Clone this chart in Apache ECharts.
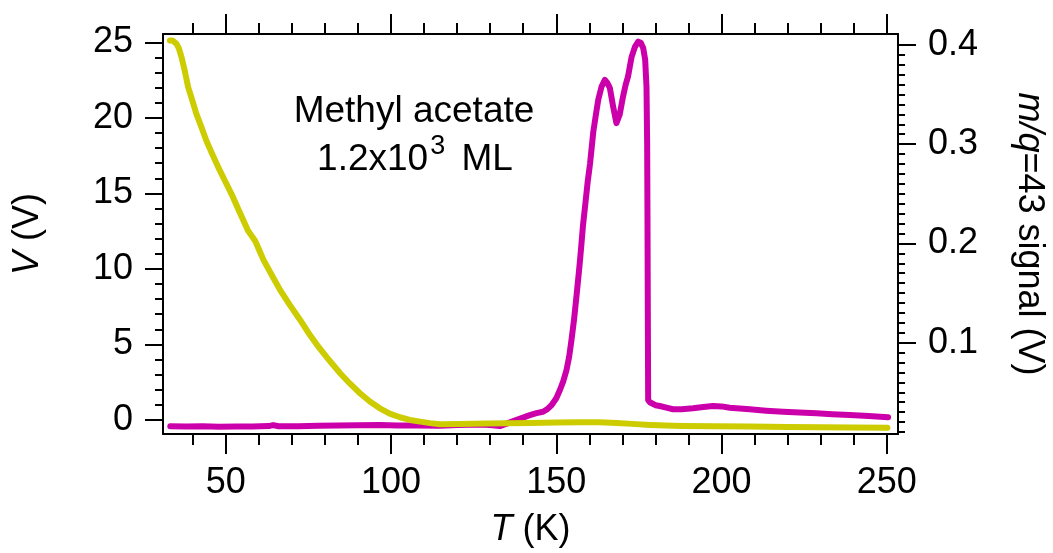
<!DOCTYPE html>
<html>
<head>
<meta charset="utf-8">
<script src="https://cdn.jsdelivr.net/npm/echarts@6/dist/echarts.min.js"></script>
<style>
html,body{margin:0;padding:0;background:#fff;}
#c{width:1053px;height:553px;}
</style>
</head>
<body>
<div id="c"></div>
<script>
// ---- Data ----
// Yellow curve: V (V) vs T (K), left axis
var tYellow = [33.1, 34.0, 35.1, 35.8, 36.6, 37.6, 38.6, 39.8, 41.1, 42.6,
  44.1, 45.9, 47.7, 49.7, 51.7, 54.2, 56.7, 57.8, 58.9, 60.1,
  61.4, 63.9, 66.4, 69.4, 72.5, 75.2, 78.0, 81.3, 84.6, 87.6,
  90.6, 93.6, 96.6, 99.6, 102.7, 105.7, 108.8, 111.8, 114.8, 120.8,
  128.9, 135, 142, 150, 157, 163, 168.2, 173, 178.3, 183,
  188.3, 198, 208.5, 220, 230, 240, 250.2];
var vYellow = [25.12, 25.1, 24.9, 24.6, 24.02, 23.1, 22.03, 21.2, 20.26, 19.4,
  18.5, 17.6, 16.74, 15.85, 14.97, 13.75, 12.54, 12.2, 11.85, 11.25,
  10.6, 9.6, 8.61, 7.6, 6.62, 5.7, 4.85, 3.95, 3.09, 2.4,
  1.77, 1.22, 0.77, 0.42, 0.18, 0.0, -0.11, -0.21, -0.28, -0.27,
  -0.24, -0.22, -0.2, -0.17, -0.15, -0.16, -0.2, -0.26, -0.33, -0.37,
  -0.40, -0.42, -0.44, -0.46, -0.48, -0.5, -0.51];

// Magenta curve: m/q=43 signal (V) vs T (K), right axis
var tMagenta = [33.2, 38, 43, 48, 53, 58, 63, 64.3, 66, 72,
  78, 84, 90, 96.7, 102, 108, 114.8, 120, 126.9, 130,
  132.9, 135, 137, 139.5, 142, 144, 146, 147.3, 148.6, 150,
  151.1, 152.1, 153.1, 153.9, 154.6, 155.4, 156.1, 156.6, 157.1, 157.6,
  158.1, 158.8, 159.5, 160.2, 160.7, 161.2, 162.0, 162.7, 163.7, 164.7,
  165.4, 166.2, 167.2, 168.2, 169.2, 170.2, 171.0, 171.7, 172.3, 172.8,
  173.8, 174.8, 175.6, 176.3, 176.9, 177.3, 177.5, 177.6, 177.7, 177.8,
  178.3, 178.8, 180, 181.3, 183.3, 185.3, 188, 191.4, 194.5, 197.4,
  200, 202.5, 205.5, 208.5, 213.5, 218.6, 223.5, 228.7, 233.5, 238.8,
  244.5, 250.4];
var sMagenta = [0.0158, 0.0155, 0.0157, 0.0152, 0.0155, 0.0156, 0.0160, 0.0170, 0.0158, 0.0157,
  0.0162, 0.0165, 0.0168, 0.0170, 0.0166, 0.0165, 0.0162, 0.0170, 0.0175, 0.0170,
  0.0160, 0.0185, 0.021, 0.024, 0.027, 0.029, 0.0304, 0.033, 0.0372, 0.044,
  0.0523, 0.061, 0.0725, 0.086, 0.1027, 0.124, 0.1464, 0.163, 0.180, 0.199,
  0.2187, 0.240, 0.262, 0.280, 0.296, 0.3124, 0.330, 0.3447, 0.358, 0.3648,
  0.362, 0.3568, 0.338, 0.3212, 0.330, 0.348, 0.360, 0.368, 0.379, 0.388,
  0.398, 0.4034, 0.402, 0.3968, 0.385, 0.358, 0.30, 0.2237, 0.13, 0.0422,
  0.0400, 0.0389, 0.037, 0.0362, 0.0345, 0.0329, 0.0330, 0.0339, 0.0352, 0.0362,
  0.0358, 0.0345, 0.0338, 0.0329, 0.0315, 0.0304, 0.0296, 0.0288, 0.0280, 0.0271,
  0.0262, 0.0248];

// Tick values
var xMajorTicks = [50, 100, 150, 200, 250];
var xMinorTicks = [40, 60, 70, 80, 90, 110, 120, 130, 140, 160, 170, 180, 190, 210, 220, 230, 240];
var yLeftMajorTicks = [0, 5, 10, 15, 20, 25];
var yLeftMinorTicks = [1, 2, 3, 4, 6, 7, 8, 9, 11, 12, 13, 14, 16, 17, 18, 19, 21, 22, 23, 24];
var yRightMajorTicks = [0.1, 0.2, 0.3, 0.4];
var yRightMinorTicks = [0.01, 0.02, 0.03, 0.04, 0.05, 0.06, 0.07, 0.08, 0.09,
  0.11, 0.12, 0.13, 0.14, 0.15, 0.16, 0.17, 0.18, 0.19,
  0.21, 0.22, 0.23, 0.24, 0.25, 0.26, 0.27, 0.28, 0.29,
  0.31, 0.32, 0.33, 0.34, 0.35, 0.36, 0.37, 0.38, 0.39];

var xRange = [31, 253.4];
var yLeftRange = [-0.93, 25.55];
var yRightRange = [0.008, 0.411];

// ---- Chart ----
var FONT = '"Liberation Sans", Arial, sans-serif';
var FS = 36;
var chart = echarts.init(document.getElementById('c'), null, {renderer: 'canvas'});

function zip(a, b) { return a.map(function (v, i) { return [v, b[i]]; }); }

function xAx(pos, ticks, len, showLine, showLabel, extra) {
  var o = {
    type: 'value', position: pos, min: xRange[0], max: xRange[1],
    axisLine: {show: showLine, onZero: false, lineStyle: {color: '#000', width: 2}},
    axisTick: {show: true, inside: false, length: len, customValues: ticks, lineStyle: {color: '#000', width: 2}},
    axisLabel: showLabel ? {show: true, customValues: ticks, margin: 31, color: '#000', fontSize: FS, fontFamily: FONT} : {show: false},
    splitLine: {show: false}
  };
  return Object.assign(o, extra || {});
}
function yAx(pos, range, ticks, len, showLine, showLabel, extra) {
  var o = {
    type: 'value', position: pos, min: range[0], max: range[1],
    axisLine: {show: showLine, onZero: false, lineStyle: {color: '#000', width: 2}},
    axisTick: {show: true, inside: false, length: len, customValues: ticks, lineStyle: {color: '#000', width: 2}},
    axisLabel: showLabel ? {show: true, customValues: ticks, margin: 30, color: '#000', fontSize: FS, fontFamily: FONT} : {show: false},
    splitLine: {show: false}
  };
  return Object.assign(o, extra || {});
}

var nameStyle = {
  color: '#000', fontSize: FS, fontFamily: FONT,
  rich: {i: {fontStyle: 'italic', fontSize: FS, fontFamily: FONT, color: '#000'}}
};

var option = {
  animation: false,
  backgroundColor: '#fff',
  grid: {left: 163, top: 34, right: 155, bottom: 119, containLabel: false, outerBoundsMode: 'none'},
  xAxis: [
    xAx('bottom', xMajorTicks, 20, true, true, {
      name: '{i|T} (K)', nameLocation: 'middle', nameGap: 78, nameTextStyle: nameStyle
    }),
    xAx('bottom', xMinorTicks, 11, false, false),
    xAx('top', xMajorTicks, 20, true, false),
    xAx('top', xMinorTicks, 11, false, false)
  ],
  yAxis: [
    yAx('left', yLeftRange, yLeftMajorTicks, 18, true, true, {
      name: '{i|V} (V)', nameLocation: 'middle', nameGap: 117, nameRotate: 90, nameTextStyle: nameStyle
    }),
    yAx('left', yLeftRange, yLeftMinorTicks, 8, false, false),
    yAx('right', yRightRange, yRightMajorTicks, 18, true, true, {
      name: '{i|m/q}=43 signal (V)', nameLocation: 'middle', nameGap: 113, nameRotate: -90, nameTextStyle: nameStyle
    }),
    yAx('right', yRightRange, yRightMinorTicks, 7, false, false)
  ],
  series: [
    {
      type: 'line', xAxisIndex: 0, yAxisIndex: 2, data: zip(tMagenta, sMagenta),
      showSymbol: false, symbol: 'none', smooth: false,
      lineStyle: {color: '#CC00AA', width: 6, cap: 'round', join: 'round'}, z: 2
    },
    {
      type: 'line', xAxisIndex: 0, yAxisIndex: 0, data: zip(tYellow, vYellow),
      showSymbol: false, symbol: 'none', smooth: false,
      lineStyle: {color: '#CCCC00', width: 6, cap: 'round', join: 'round'}, z: 3
    }
  ],
  graphic: [
    {
      type: 'text', x: 414, y: 112, z: 10,
      style: {text: 'Methyl acetate', fill: '#000', font: '37px ' + FONT, align: 'center', verticalAlign: 'middle'}
    },
    {
      type: 'text', x: 415, y: 160, z: 10,
      style: {
        text: '1.2x10{sup|3} ML', fill: '#000', fontSize: 37, fontFamily: FONT, align: 'center', verticalAlign: 'middle',
        lineHeight: 54,
        rich: {sup: {fontSize: 27, fontFamily: FONT, fill: '#000', verticalAlign: 'top', lineHeight: 27, padding: [0, 6, 0, 2]}}
      }
    }
  ]
};
chart.setOption(option);
</script>
</body>
</html>
